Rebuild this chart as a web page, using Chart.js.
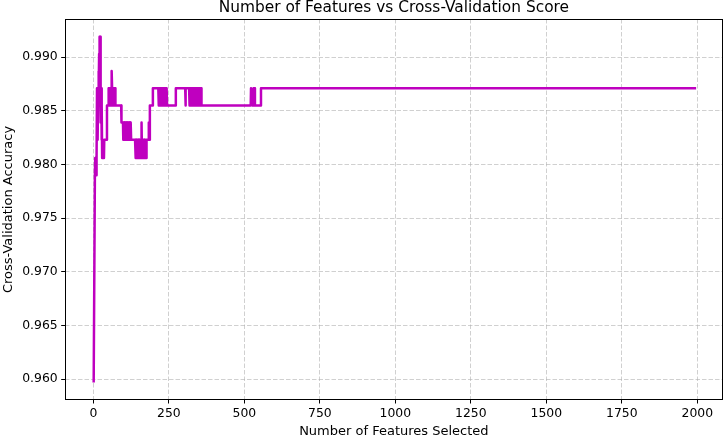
<!DOCTYPE html>
<html>
<head>
<meta charset="utf-8">
<script src="https://cdn.jsdelivr.net/npm/chart.js@4.4.1/dist/chart.umd.min.js"></script>
<style>
  html, body { margin: 0; padding: 0; background: #ffffff; }
  #wrap { width: 724px; height: 438px; }
</style>
</head>
<body>
<div id="wrap"><canvas id="c" width="724" height="438"></canvas></div>
<script>
// Vertices of the plotted curve (feature count -> CV accuracy); flat runs given by their end points
const featureCounts = [
  1, 5, 6, 7, 8, 9, 10, 11, 12, 13, 14, 15, 16, 17, 18, 19, 20, 21, 22, 23, 24, 25, 26, 27, 28, 29,
  35, 36, 44, 45, 49,
  50, 51, 52, 53, 54, 55, 56, 57, 58, 59, 60, 61, 62, 63, 64, 65, 66, 67, 68, 69, 70, 71, 72, 73, 92,
  93, 98,
  99, 100, 101, 102, 103, 104, 105, 106, 107, 108, 109, 110, 111, 112, 113, 114, 115, 116, 117, 118, 119, 120, 121, 122, 123, 124, 125, 138,
  139, 140, 141, 142, 143, 144, 145, 146, 147, 148, 149, 150, 151, 152, 153, 154, 155, 156, 157, 158, 159,
  160,
  161, 162, 163, 164, 165, 166, 167, 168, 169, 170, 171, 172, 173, 174, 175, 176,
  182, 183, 184, 186, 187, 196, 197, 215,
  216, 217, 218, 219, 220, 221, 222, 223, 224, 225, 226, 227, 228, 229, 230, 231, 232, 233, 234, 235, 236, 237, 238, 239, 240, 241, 242, 243, 244,
  272, 273, 304, 305, 306, 317,
  318, 319, 320, 321, 322, 323, 324, 325, 326, 327, 328, 329, 330, 331, 332, 333, 334, 335, 336, 337, 338, 339, 340, 341, 342, 343, 344, 345, 346, 347, 348, 349, 350, 351, 352, 353, 354, 355, 356, 357, 358,
  521, 522, 525, 526, 529, 530, 534, 535, 554, 555, 1996
];
const cvScores = [
  0.9597, 0.9790, 0.9806, 0.9790, 0.9806, 0.9790, 0.9806, 0.9806, 0.9871, 0.9855, 0.9871, 0.9823, 0.9871, 0.9887, 0.9871, 0.9903, 0.9919, 0.9887, 0.9919, 0.9871, 0.9903, 0.9839, 0.9871, 0.9823, 0.9855, 0.9806,
  0.9806, 0.9823, 0.9823, 0.9855, 0.9855,
  0.9871, 0.9855, 0.9871, 0.9855, 0.9871, 0.9855, 0.9871, 0.9855, 0.9871, 0.9855, 0.9871, 0.9887, 0.9871, 0.9855, 0.9871, 0.9855, 0.9871, 0.9855, 0.9871, 0.9855, 0.9871, 0.9855, 0.9871, 0.9855, 0.9855,
  0.9839, 0.9839,
  0.9823, 0.9839, 0.9823, 0.9839, 0.9823, 0.9839, 0.9823, 0.9839, 0.9823, 0.9839, 0.9823, 0.9839, 0.9823, 0.9839, 0.9823, 0.9839, 0.9823, 0.9839, 0.9823, 0.9839, 0.9823, 0.9839, 0.9823, 0.9839, 0.9823, 0.9839, 0.9823, 0.9823,
  0.9806, 0.9823, 0.9806, 0.9823, 0.9806, 0.9823, 0.9806, 0.9823, 0.9806, 0.9823, 0.9806, 0.9823, 0.9806, 0.9823, 0.9806, 0.9823, 0.9806, 0.9823, 0.9806, 0.9823, 0.9806,
  0.9839,
  0.9806, 0.9823, 0.9806, 0.9823, 0.9806, 0.9823, 0.9806, 0.9823, 0.9806, 0.9823, 0.9806, 0.9823, 0.9806, 0.9823, 0.9806, 0.9823,
  0.9823, 0.9839, 0.9823, 0.9823, 0.9855, 0.9855, 0.9871, 0.9871,
  0.9855, 0.9871, 0.9855, 0.9871, 0.9855, 0.9871, 0.9855, 0.9871, 0.9855, 0.9871, 0.9855, 0.9871, 0.9855, 0.9871, 0.9855, 0.9871, 0.9855, 0.9871, 0.9855, 0.9871, 0.9855, 0.9871, 0.9855, 0.9871, 0.9855, 0.9871, 0.9855, 0.9871, 0.9855,
  0.9855, 0.9871, 0.9871, 0.9855, 0.9871, 0.9871,
  0.9855, 0.9871, 0.9855, 0.9871, 0.9855, 0.9871, 0.9855, 0.9871, 0.9855, 0.9871, 0.9855, 0.9871, 0.9855, 0.9871, 0.9855, 0.9871, 0.9855, 0.9871, 0.9855, 0.9871, 0.9855, 0.9871, 0.9855, 0.9871, 0.9855, 0.9871, 0.9855, 0.9871, 0.9855, 0.9871, 0.9855, 0.9871, 0.9855, 0.9871, 0.9855, 0.9871, 0.9855, 0.9871, 0.9855, 0.9871, 0.9855,
  0.9855, 0.9871, 0.9871, 0.9855, 0.9855, 0.9871, 0.9871, 0.9855, 0.9855, 0.9871, 0.9871
];
const xTickValues = [0, 250, 500, 750, 1000, 1250, 1500, 1750, 2000];
const yTickValues = [0.960, 0.965, 0.970, 0.975, 0.980, 0.985, 0.990];

const points = featureCounts.map((f, i) => ({ x: f, y: cvScores[i] }));

const FONT = 'DejaVu Sans';

const frame = {
  id: 'frame',
  afterDatasetsDraw(chart) {
    const { ctx, chartArea: a } = chart;
    ctx.save();
    ctx.strokeStyle = '#000';
    ctx.lineWidth = 1;
    ctx.setLineDash([]);
    const l = Math.round(a.left) + 0.5, r = Math.round(a.right) - 0.5;
    const t = Math.round(a.top) + 0.5, b = Math.round(a.bottom) - 0.5;
    ctx.strokeRect(l, t, r - l, b - t);
    ctx.restore();
  }
};

new Chart(document.getElementById('c'), {
  type: 'scatter',
  data: {
    datasets: [{
      data: points,
      showLine: true,
      borderColor: '#BF00BF',
      backgroundColor: '#BF00BF',
      borderWidth: 2.5,
      borderJoinStyle: 'round',
      borderCapStyle: 'butt',
      pointRadius: 0,
      pointHoverRadius: 0,
      tension: 0,
      fill: false
    }]
  },
  options: {
    responsive: false,
    devicePixelRatio: 1,
    animation: false,
    layout: { padding: { left: 0, right: 1, top: 0, bottom: 0 } },
    plugins: {
      legend: { display: false },
      tooltip: { enabled: false },
      title: {
        display: true,
        fullSize: false,
        text: 'Number of Features vs Cross-Validation Score',
        color: '#000',
        font: { family: FONT, size: 15.4, weight: 'normal', lineHeight: 1 },
        padding: { top: 0.2, bottom: 3.4 }
      }
    },
    scales: {
      x: {
        type: 'linear',
        min: -95,
        max: 2085,
        afterBuildTicks: s => { s.ticks = xTickValues.map(v => ({ value: v })); },
        afterFit: s => { s.height = 38; },
        ticks: {
          color: '#000',
          font: { family: FONT, size: 12.4 },
          padding: 3,
          maxRotation: 0,
          autoSkip: false,
          callback: v => String(v)
        },
        grid: {
          color: 'rgba(176,176,176,0.6)',
          lineWidth: 1,
          drawTicks: true,
          tickLength: 3.5,
          tickColor: '#000',
          tickWidth: 1,
          tickBorderDash: []
        },
        border: { display: false, dash: [4.5, 2] },
        title: {
          display: true,
          text: 'Number of Features Selected',
          color: '#000',
          font: { family: FONT, size: 13, lineHeight: 1 },
          padding: { top: 0, bottom: 0 }
        }
      },
      y: {
        type: 'linear',
        min: 0.958065,
        max: 0.993548,
        afterBuildTicks: s => { s.ticks = yTickValues.map(v => ({ value: v })); },
        afterFit: s => { s.width = 64.7; },
        ticks: {
          color: '#000',
          font: { family: FONT, size: 12.4 },
          padding: 3.5,
          autoSkip: false,
          callback: v => Number(v).toFixed(3)
        },
        grid: {
          color: 'rgba(176,176,176,0.6)',
          lineWidth: 1,
          drawTicks: true,
          tickLength: 3.5,
          tickColor: '#000',
          tickWidth: 1,
          tickBorderDash: []
        },
        border: { display: false, dash: [4.5, 2] },
        title: {
          display: true,
          text: 'Cross-Validation Accuracy',
          color: '#000',
          font: { family: FONT, size: 13, lineHeight: 1 },
          padding: { top: 1.8, bottom: 0 }
        }
      }
    }
  },
  plugins: [frame]
});
</script>
</body>
</html>
